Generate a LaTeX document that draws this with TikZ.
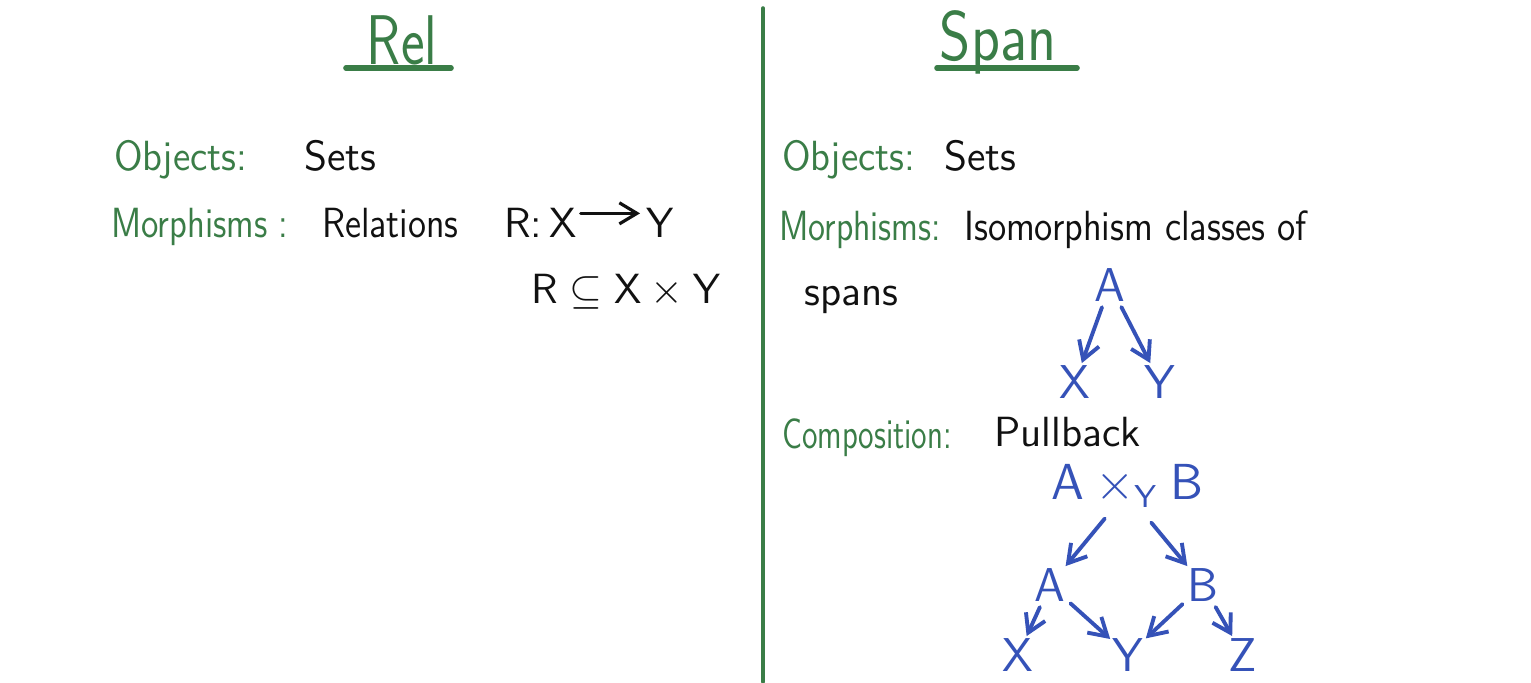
\documentclass[tikz,border=0pt]{standalone}
\usepackage{amsmath,amssymb}
\usepackage{graphicx}
\usepackage{tikz}
\usetikzlibrary{arrows.meta,calc,positioning}
\definecolor{boardgreen}{HTML}{3A7D47}
\definecolor{boardblue}{HTML}{3552B8}
\definecolor{boardink}{HTML}{111111}
\newcommand{\hand}[2][0.85]{\scalebox{#1}[1]{#2}}

\begin{document}
\begin{tikzpicture}[x=0.01cm,y=-0.01cm,>={Straight Barb[length=5pt,width=6pt]},
  line cap=round,line join=round,font=\sffamily,
  title/.style={text=boardgreen,font=\sffamily\fontsize{20}{22}\selectfont,inner sep=1pt},
  key/.style={text=boardgreen,anchor=base west,inner sep=1pt,font=\sffamily\fontsize{12}{14}\selectfont},
  val/.style={text=boardink,anchor=base west,inner sep=1pt,font=\sffamily\fontsize{12}{14}\selectfont},
  obj/.style={text=boardblue,inner sep=0.5pt,font=\sffamily\fontsize{13.5}{15}\selectfont},
  arr/.style={->,boardblue,line width=1.1pt,shorten <=1pt},
  rule/.style={boardgreen,line width=1.6pt}]
\path[use as bounding box] (0,0) rectangle (1531,682);
\fill[white] (0,0) rectangle (1531,682);

% divider
\coordinate (divtop) at (763,8);
\coordinate (divbot) at (763,682);
\draw[boardgreen,line width=1pt] (divtop)--(divbot);

% titles
\node[title] (rel) at (402,40) {\hand[0.8]{Rel}};
\draw[rule] (346,68)--(451,68);
\node[title] (span) at (998,42) {\hand[0.85]{Span}};
\draw[rule] (937,68)--(1077,68);

% left column: Rel
\node[key] (lobj) at (110,170) {\hand[0.94]{Objects:}};
\node[val] (lsets) at (300,170) {Sets};
\node[key] (lmor) at (107,238) {\hand[0.84]{Morphisms :}};
\node[val] (lrel) at (318,238) {\hand[0.87]{Relations}};
\node[val] (rname) at (500,238) {R:};
\node[val] (relX) at (545,238) {X};
\node[val] (relY) at (642,238) {Y};
\draw[->,boardink,line width=0.9pt] ($(relX.east)+(0,-10)$)--($(relY.west)+(-2,-10)$);
\node[val] (rsub) at (527,303) {$\mathsf{R}\subseteq \mathsf{X}\times\mathsf{Y}$};

% right column: Span
\node[key] (robj) at (778,170) {\hand[0.94]{Objects:}};
\node[val] (rsets) at (940,170) {Sets};
\node[key] (rmor) at (775,240) {\hand[0.82]{Morphisms:}};
\node[val] (iso) at (960,240) {\hand[0.88]{Isomorphism classes of}};
\node[val] (spans) at (800,305) {spans};

\node[obj] (sA) at (1110,285) {A};
\node[obj] (sX) at (1075,382) {X};
\node[obj] (sY) at (1160,382) {Y};
\draw[arr] (sA)--(sX);
\draw[arr] (sA)--(sY);

\node[key] (comp) at (778,448) {\hand[0.75]{Composition:}};
\node[val] (pull) at (990,446) {Pullback};

\node[obj] (pb) at (1127,486) {$\mathsf{A}\times_{\mathsf{Y}}\mathsf{B}$};
\node[obj] (pA) at (1050,585) {A};
\node[obj] (pB) at (1203,585) {B};
\node[obj] (pX) at (1018,655) {X};
\node[obj] (pY) at (1128,655) {Y};
\node[obj] (pZ) at (1243,655) {Z};
\draw[arr] ($(pb.south)+(-20,6)$)--(pA);
\draw[arr] ($(pb.south)+(22,10)$)--(pB);
\draw[arr] (pA)--(pX);
\draw[arr] (pA)--(pY);
\draw[arr] (pB)--(pY);
\draw[arr] (pB)--(pZ);
\end{tikzpicture}
\end{document}
